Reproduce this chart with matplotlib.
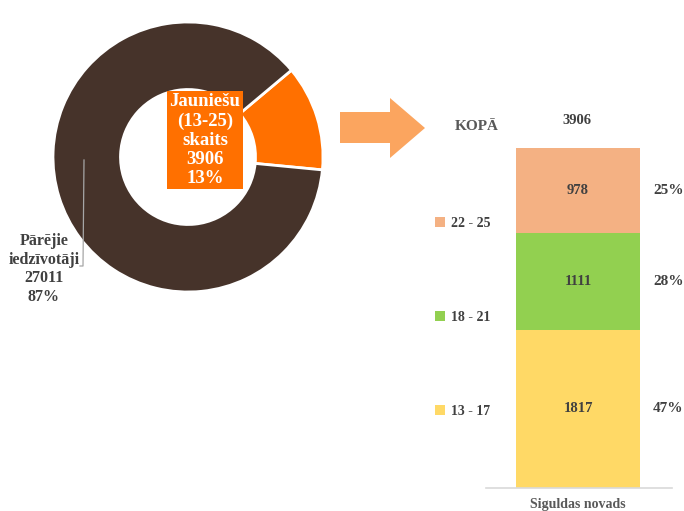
import matplotlib.pyplot as plt
from matplotlib.patches import Polygon

# donut data
pie_labels = ["Jauniešu\n(13-25)\nskaits", "Pārējie\niedzīvotāji"]
pie_values = [3906, 27011]
pie_colors = ["#FF7000", "#46332A"]

# stacked bar data
region = "Siguldas novads"
age_groups = ["13 - 17", "18 - 21", "22 - 25"]
age_values = [1817, 1111, 978]
age_colors = ["#FFD966", "#92D050", "#F4B183"]

plt.rcParams['font.family'] = ['Liberation Serif', 'DejaVu Serif']
plt.rcParams['font.weight'] = 'bold'
txt = "#404040"

W, H = 684, 511
fig = plt.figure(figsize=(W / 100, H / 100), dpi=100)

# donut
ax1 = fig.add_axes([53 / W, (H - 292) / H, 270 / W, 270 / H])
ax1.pie(pie_values, colors=pie_colors, startangle=40, counterclock=False,
        radius=1, wedgeprops=dict(width=0.5, edgecolor="white", linewidth=2))
ax1.set_xlim(-1, 1)
ax1.set_ylim(-1, 1)
ax1.set_aspect("equal")
ax1.axis("off")

# overlay axes in pixel coordinates (for arrow and free labels), on top
over = fig.add_axes([0, 0, 1, 1])
over.set_xlim(0, W)
over.set_ylim(H, 0)
over.axis("off")
over.patch.set_visible(False)
over.set_zorder(5)

total = sum(pie_values)
pct = [round(v / total * 100) for v in pie_values]
over.text(205, 140, f"{pie_labels[0]}\n{pie_values[0]}\n{pct[0]}%", color="white",
          fontsize=13.5, ha="center", va="center", linespacing=1.15, zorder=5,
          bbox=dict(boxstyle="square,pad=0.15", facecolor=pie_colors[0], edgecolor="none"))
over.text(44, 269, f"{pie_labels[1]}\n{pie_values[1]}\n{pct[1]}%", color=txt,
          fontsize=11.5, ha="center", va="center", linespacing=1.2)
over.plot([84, 83, 80], [160, 266, 266], color="#A6A6A6", lw=0.9, zorder=6)

# arrow
arrow = Polygon([[340, 112], [390, 112], [390, 98], [425, 128], [390, 158],
                 [390, 143], [340, 143]], closed=True, facecolor="#FBA55F", edgecolor="none")
over.add_patch(arrow)

# stacked bar
ax2 = fig.add_axes([486 / W, (H - 488) / H, 186 / W, (488 - 148) / H])
bottom = 0
for grp, val, col in zip(age_groups, age_values, age_colors):
    ax2.bar(0, val, bottom=bottom, width=0.67, color=col, label=grp)
    ax2.text(0, bottom + val / 2, str(val), ha="center", va="center", fontsize=10.5, color=txt)
    ax2.text(0.485, bottom + val / 2, f"{round(val / sum(age_values) * 100)}%",
             ha="center", va="center", fontsize=11, color=txt)
    bottom += val
ax2.set_xlim(-0.495, 0.505)
ax2.set_ylim(0, sum(age_values))
ax2.set_xticks([0])
ax2.set_xticklabels([region], fontsize=10, color="#595959")
ax2.tick_params(axis="x", length=0, pad=7)
ax2.set_yticks([])
for s in ["top", "left", "right"]:
    ax2.spines[s].set_visible(False)
ax2.spines["bottom"].set_color("#D9D9D9")
ax2.spines["bottom"].set_linewidth(1.2)

over.text(477, 127, "KOPĀ", ha="center", va="center", fontsize=11, color="#595959")
over.text(577, 120, str(sum(age_values)), ha="center", va="center", fontsize=10.5, color=txt)

handles, labels = ax2.get_legend_handles_labels()
ax2.legend(handles[::-1], labels[::-1], loc="upper right",
           bbox_to_anchor=(0.09, 0.835), frameon=False, fontsize=10,
           labelspacing=5.85, handlelength=0.75, handleheight=0.75,
           handletextpad=0.4, labelcolor=txt)

fig.savefig("out.png", dpi=100)
